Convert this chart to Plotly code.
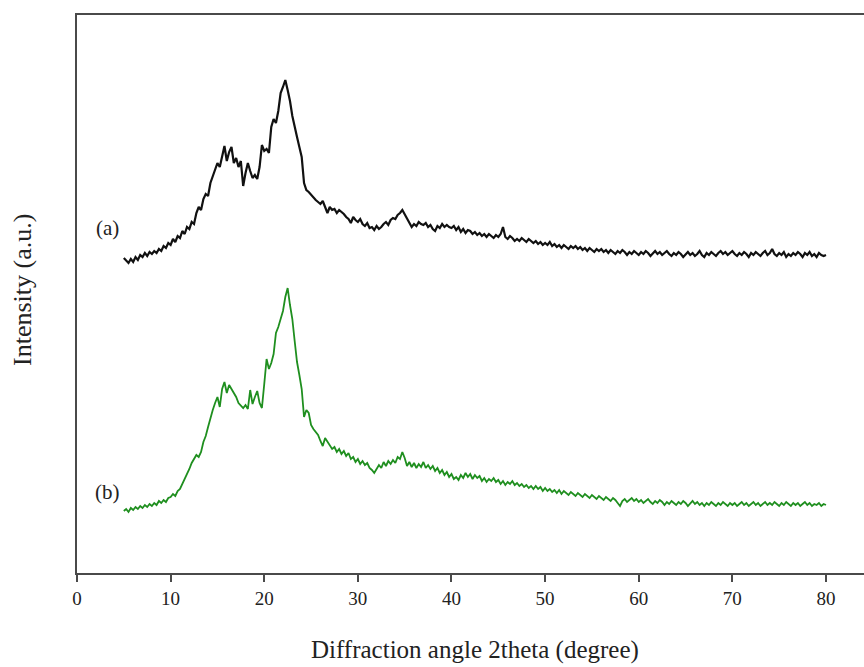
import numpy as np
import plotly.graph_objects as go

# 2theta scan grid (degrees), 0.25 deg step from 5 to 80
two_theta = np.round(np.arange(5.0, 80.001, 0.25), 2)

# Pattern (a): intensity in arbitrary units, 20 points per 5-degree block
intensity_a = [
    65, 62, 60, 64, 61, 66, 63, 68, 66, 70, 67, 71, 69, 72, 70, 74, 72, 77, 75, 80,
    78, 84, 81, 87, 85, 92, 89, 96, 94, 101, 99, 110, 116, 113, 124, 129, 127, 140, 147, 152,
    160, 156, 166, 177, 162, 171, 176, 160, 165, 156, 162, 137, 150, 160, 152, 145, 148, 144, 156, 178,
    172, 174, 170, 196, 204, 200, 212, 230, 236, 243, 233, 222, 207, 198, 186, 176, 166, 140, 133, 131,
    128, 125, 123, 121, 119, 122, 116, 110, 116, 113, 114, 110, 113, 111, 109, 106, 104, 100, 106, 103,
    101, 104, 99, 97, 100, 95, 96, 93, 97, 94, 96, 99, 101, 98, 103, 105, 104, 108, 110, 113,
    109, 104, 100, 96, 99, 97, 101, 99, 98, 100, 96, 98, 94, 92, 97, 95, 99, 96, 98, 96,
    95, 97, 93, 96, 91, 94, 90, 93, 92, 89, 91, 88, 90, 87, 89, 86, 89, 87, 85, 88,
    86, 89, 96, 86, 84, 87, 85, 82, 84, 82, 85, 83, 81, 84, 82, 80, 82, 79, 81, 78,
    80, 78, 81, 77, 79, 76, 78, 75, 78, 76, 74, 77, 75, 77, 74, 76, 73, 75, 72, 75,
    73, 71, 74, 72, 74, 71, 73, 70, 73, 71, 69, 72, 70, 73, 71, 68, 71, 69, 72, 70,
    68, 71, 69, 72, 70, 67, 70, 72, 69, 71, 68, 70, 72, 69, 67, 70, 68, 71, 69, 66,
    69, 71, 68, 70, 67, 69, 72, 68, 66, 70, 68, 71, 69, 67, 70, 72, 69, 71, 68, 70,
    72, 69, 67, 70, 68, 71, 69, 66, 70, 68, 71, 69, 67, 70, 72, 68, 70, 74, 69, 67,
    70, 68, 71, 66, 69, 67, 70, 68, 71, 69, 66, 70, 68, 71, 67, 69, 66, 70, 68, 67,
    68,
]

# Pattern (b): intensity in arbitrary units, same grid
intensity_b = [
    62, 64, 61, 65, 63, 66, 64, 67, 65, 68, 66, 69, 67, 70, 68, 72, 70, 73, 71, 75,
    76, 79, 77, 82, 84, 89, 93, 99, 104, 110, 114, 118, 116, 121, 131, 137, 146, 155, 163, 170,
    176, 166, 184, 191, 180, 188, 184, 179, 176, 170, 167, 165, 168, 164, 183, 169, 176, 182, 170, 165,
    189, 214, 204, 210, 219, 240, 246, 253, 262, 276, 285, 268, 254, 232, 211, 198, 184, 156, 163, 160,
    148, 144, 141, 138, 132, 127, 135, 131, 127, 124, 126, 121, 124, 119, 122, 117, 120, 114, 116, 111,
    114, 109, 112, 108, 110, 105, 103, 100, 104, 108, 105, 111, 107, 112, 109, 113, 110, 116, 114, 121,
    115, 107, 111, 106, 110, 105, 109, 106, 111, 105, 108, 104, 107, 102, 105, 100, 103, 98, 101, 96,
    99, 94, 96, 93, 98, 95, 100, 96, 99, 94, 98, 95, 97, 92, 95, 91, 94, 92, 95, 91,
    93, 89, 92, 88, 91, 89, 92, 88, 90, 87, 89, 86, 88, 85, 87, 84, 87, 84, 86, 82,
    85, 82, 84, 81, 83, 80, 83, 79, 82, 80, 78, 81, 79, 77, 80, 78, 76, 79, 77, 75,
    78, 76, 74, 77, 75, 73, 76, 74, 72, 75, 73, 70, 67, 72, 74, 71, 73, 75, 72, 74,
    71, 73, 70, 72, 74, 71, 69, 72, 70, 73, 71, 68, 71, 69, 72, 70, 68, 71, 69, 72,
    70, 67, 70, 72, 69, 71, 68, 70, 67, 70, 68, 71, 69, 67, 70, 68, 71, 69, 67, 70,
    68, 70, 67, 69, 71, 68, 70, 67, 69, 71, 68, 70, 67, 69, 71, 68, 70, 68, 71, 69,
    67, 70, 68, 71, 69, 67, 70, 68, 70, 67, 69, 71, 68, 70, 67, 69, 68, 70, 67, 69,
    68,
]

assert len(intensity_a) == len(two_theta) == len(intensity_b)

# vertical stacking offset applied to pattern (a)
OFFSET_A = 250

x_ticks = [0, 10, 20, 30, 40, 50, 60, 70, 80]
SERIF = "Liberation Serif, Times New Roman, serif"
AXIS_COLOR = "#4a4a4a"
TEXT_COLOR = "#222222"

fig = go.Figure()
fig.add_trace(go.Scatter(
    x=two_theta, y=np.array(intensity_a) + OFFSET_A, mode="lines",
    line=dict(color="#111111", width=2.2), name="(a)", showlegend=False,
))
fig.add_trace(go.Scatter(
    x=two_theta, y=np.array(intensity_b), mode="lines",
    line=dict(color="#1f8f1f", width=1.8), name="(b)", showlegend=False,
))

fig.update_layout(
    width=864, height=667,
    margin=dict(l=77, r=0, t=15, b=94),
    paper_bgcolor="white", plot_bgcolor="white",
    font=dict(family=SERIF, color=TEXT_COLOR),
    xaxis=dict(
        range=[0, 84.06], tickvals=x_ticks, ticktext=[str(v) for v in x_ticks],
        showgrid=False, zeroline=False,
        showline=True, linecolor=AXIS_COLOR, linewidth=2, mirror=True,
        ticks="outside", ticklen=7, tickwidth=1.5, tickcolor=AXIS_COLOR,
        tickfont=dict(family=SERIF, size=19, color=TEXT_COLOR),
    ),
    yaxis=dict(
        range=[0, 558], showticklabels=False, showgrid=False, zeroline=False,
        showline=True, linecolor=AXIS_COLOR, linewidth=2, mirror=False,
        ticks="",
    ),
    annotations=[
        dict(text="Diffraction angle 2theta (degree)", xref="paper", yref="paper",
             x=(475 - 77) / 787, y=0, yshift=-77, xanchor="center", yanchor="middle",
             showarrow=False, font=dict(family=SERIF, size=25, color=TEXT_COLOR)),
        dict(text="Intensity (a.u.)", xref="paper", yref="paper", textangle=-90,
             x=0, xshift=-55, y=(573 - 290) / 558, xanchor="center", yanchor="middle",
             showarrow=False, font=dict(family=SERIF, size=26, color=TEXT_COLOR)),
        dict(text="(a)", xref="x", yref="paper", x=3.3, y=(573 - 228) / 558,
             xanchor="center", yanchor="middle", showarrow=False,
             font=dict(family=SERIF, size=21, color=TEXT_COLOR)),
        dict(text="(b)", xref="x", yref="paper", x=3.3, y=(573 - 492) / 558,
             xanchor="center", yanchor="middle", showarrow=False,
             font=dict(family=SERIF, size=21, color=TEXT_COLOR)),
    ],
)

fig.write_html("out.html")
